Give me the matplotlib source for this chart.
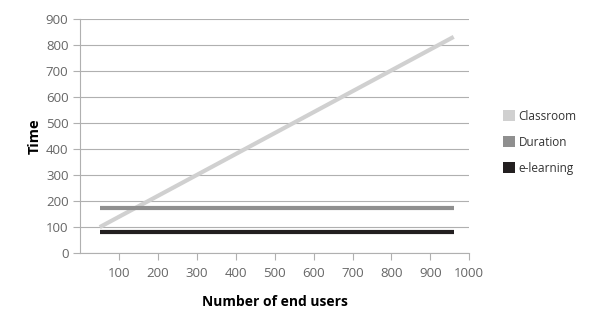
import matplotlib
matplotlib.use("Agg")
import matplotlib.pyplot as plt
from matplotlib.patches import Patch

plt.rcParams['font.family'] = ['Open Sans', 'DejaVu Sans']

x_users = [50, 960]
classroom = [100, 832]
duration = [175, 175]
elearning = [80, 80]
x_ticks = [100, 200, 300, 400, 500, 600, 700, 800, 900, 1000]
y_ticks = [0, 100, 200, 300, 400, 500, 600, 700, 800, 900]

fig = plt.figure(figsize=(6, 3.2), dpi=100)
ax = fig.add_axes([0.1338, 0.209, 0.6483, 0.731])

c_class = '#d0d0d0'
c_dur = '#8f8f8f'
c_el = '#231f20'

ax.plot(x_users, classroom, color=c_class, lw=3, solid_capstyle='butt', zorder=3)
ax.plot(x_users, duration, color=c_dur, lw=3, solid_capstyle='butt', zorder=3)
ax.plot(x_users, elearning, color=c_el, lw=3, solid_capstyle='butt', zorder=3)

ax.set_xlim(0, 1000)
ax.set_ylim(0, 900)
ax.set_xticks(x_ticks)
ax.set_yticks(y_ticks)
ax.grid(axis='y', color='#b0b0b0', lw=0.8)
ax.set_axisbelow(True)
for s in ['top', 'right']:
    ax.spines[s].set_visible(False)
for s in ['left', 'bottom']:
    ax.spines[s].set_color('#b0b0b0')
    ax.spines[s].set_linewidth(0.8)
ax.tick_params(colors='#b0b0b0', labelcolor='#666666', labelsize=9.5, length=5, width=0.8)
ax.tick_params(axis='x', pad=5)
ax.set_xlabel('Number of end users', fontsize=10, fontweight='bold', labelpad=11)
ax.set_ylabel('Time', fontsize=10.5, fontweight='bold', labelpad=3)

handles = [Patch(facecolor=c_class, label='Classroom'),
           Patch(facecolor=c_dur, label='Duration'),
           Patch(facecolor=c_el, label='e-learning')]
fig.legend(handles=handles, loc='center left', bbox_to_anchor=(0.838, 0.556), frameon=False,
           borderpad=0, borderaxespad=0,
           fontsize=8.5, handlelength=1.0, handleheight=0.95, labelspacing=1.1, handletextpad=0.35,
           labelcolor='#333333')

fig.savefig('out.png', dpi=100)
